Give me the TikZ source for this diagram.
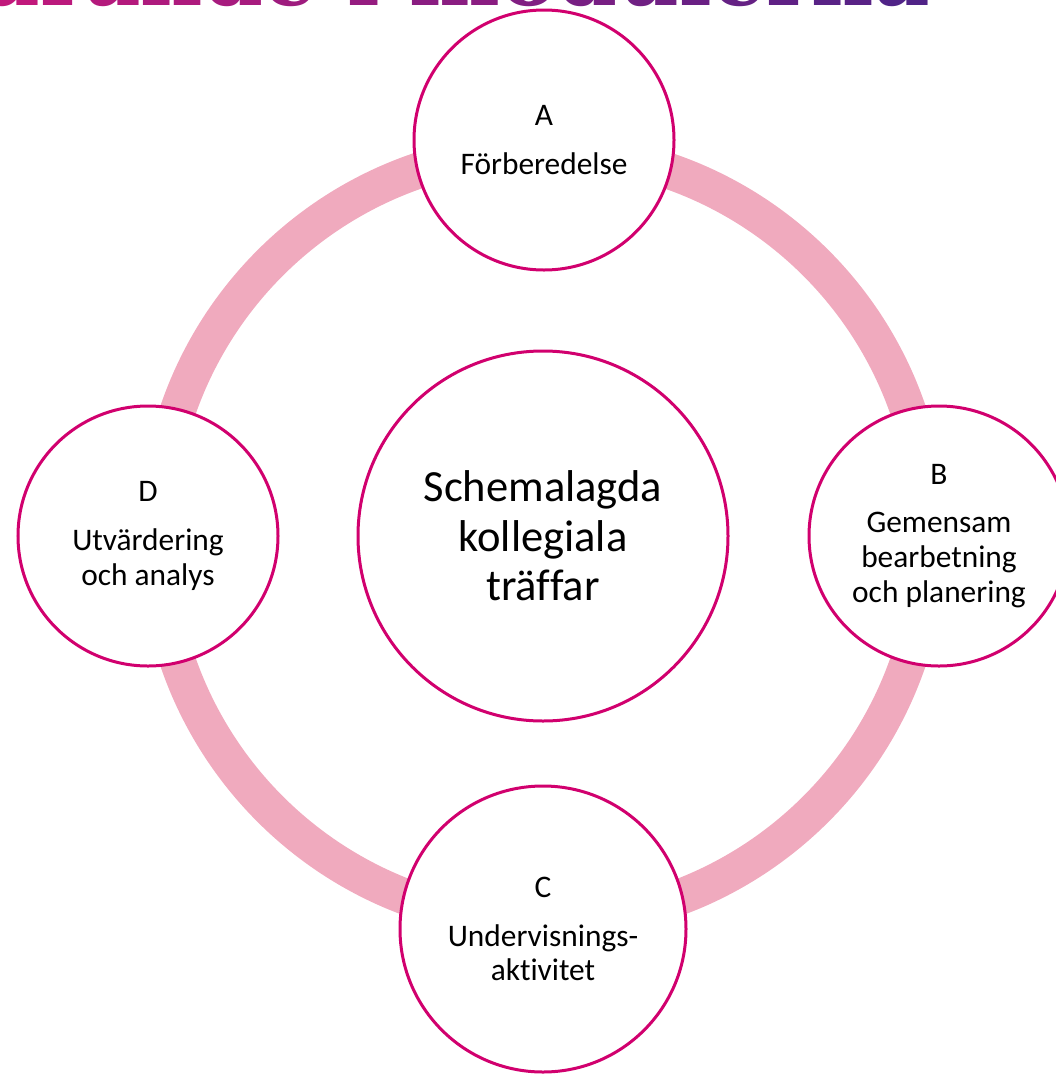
\documentclass[tikz,border=0pt]{standalone}
\usepackage{fontspec}
\setmainfont{Carlito}[Ligatures=NoCommon]
\newfontfamily\titlefont{DejaVu Serif}

\definecolor{ringpink}{HTML}{F0AABE}
\definecolor{rimred}{HTML}{D1006E}
\definecolor{ttlL}{HTML}{C2187B}
\definecolor{ttlR}{HTML}{4B2387}

% one letter of the title, #1 = share of the right colour
\newcommand\ttlch[2]{\textcolor{ttlR!#1!ttlL}{#2}}

\tikzset{
    phase/.style={circle, draw=rimred, line width=3bp, fill=white, inner sep=0pt,
        minimum size=260bp, align=center, font=\fontsize{31.5}{35}\selectfont},
    hubnode/.style={phase, minimum size=370bp, font=\fontsize{44.7}{49.5}\selectfont},
    ring/.style={draw=ringpink, line width=36bp},
}

\begin{document}
\begin{tikzpicture}[x=1bp,y=-1bp]
    \useasboundingbox (0,0) rectangle (1056,1076);

    % title, only its foot shows at the top edge
    \node[anchor=base east, inner sep=0pt, font=\titlefont\bfseries\fontsize{86}{90}\selectfont] (title) at (930,5)
        {\ttlch{0}{L}\ttlch{1}{ä}\ttlch{6}{r}\ttlch{12}{a}\ttlch{17}{n}\ttlch{23}{d}\ttlch{30}{e}
         \ttlch{38}{i}
         \ttlch{47}{m}\ttlch{55}{o}\ttlch{62}{d}\ttlch{69}{u}\ttlch{74}{l}\ttlch{78}{e}\ttlch{82}{r}\ttlch{88}{n}\ttlch{96}{a}};

    % the cycle
    \coordinate (mid) at (543,536);
    \draw[ring] (mid) circle (386bp);

    \node[hubnode] (hub) at (mid) {Schemalagda\\kollegiala\\träffar};
    \node[phase] (prep) at (544,140) {A\\[14bp]Förberedelse};
    \node[phase] (plan) at (939,536) {B\\[14bp]Gemensam\\bearbetning\\och planering};
    \node[phase, minimum size=286bp] (teach) at (543,929) {C\\[14bp]Undervisnings-\\aktivitet};
    \node[phase] (eval) at (148,536) {D\\[14bp]Utvärdering\\och analys};
\end{tikzpicture}
\end{document}
